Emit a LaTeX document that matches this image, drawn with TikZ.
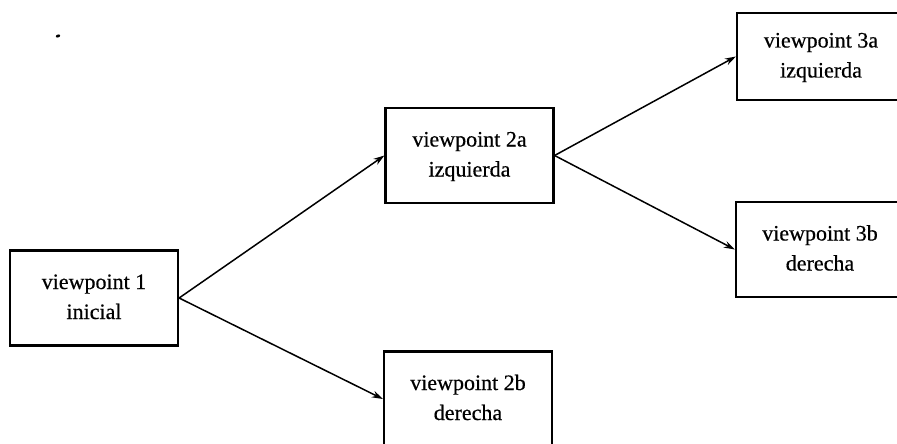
\documentclass[tikz,border=0pt]{standalone}
\usepackage{fontspec}
\setmainfont{Liberation Serif}[FakeBold=0.5]
\usetikzlibrary{arrows.meta}
% two centred lines of box text, set a little below the box centre
\newcommand{\vplines}[2]{\raisebox{-4pt}{\begin{tabular}{@{}c@{}}#1\\#2\end{tabular}}}
\begin{document}
\begin{tikzpicture}[x=1pt,y=-1pt,
  vpbox/.style={draw=black, line width=2.2pt, fill=white,
    inner sep=0pt, minimum width=168pt, minimum height=95pt,
    font=\fontsize{22}{30}\selectfont},
  link/.style={line width=1.5pt, -{Stealth[length=11pt,width=7pt]}}]
  \useasboundingbox (0,0) rectangle (897,444);
  \begin{scope}
    \clip (0,0) rectangle (897,444);
    % viewpoint boxes
    \node[vpbox] (v1)  at (94,298)      {\vplines{viewpoint 1}{inicial}};
    \node[vpbox] (v2a) at (469.5,155.5) {\vplines{viewpoint 2a}{izquierda}};
    \node[vpbox] (v2b) at (468,399)     {\vplines{viewpoint 2b}{derecha}};
    \node[vpbox, minimum height=87pt] (v3a) at (821,56.5) {\vplines{viewpoint 3a}{izquierda}};
    \node[vpbox] (v3b) at (820,249.5)   {\vplines{viewpoint 3b}{derecha}};
    % branching arrows
    \draw[link] (v1.east)  -- (v2a.west);
    \draw[link] (v1.east)  -- (v2b.west);
    \draw[link] (v2a.east) -- (v3a.west);
    \draw[link] (v2a.east) -- (v3b.west);
    % small stray mark near the top left
    \fill[black, rotate around={20:(58,36)}] (58,36) ellipse (2.2pt and 1.5pt);
  \end{scope}
\end{tikzpicture}
\end{document}
